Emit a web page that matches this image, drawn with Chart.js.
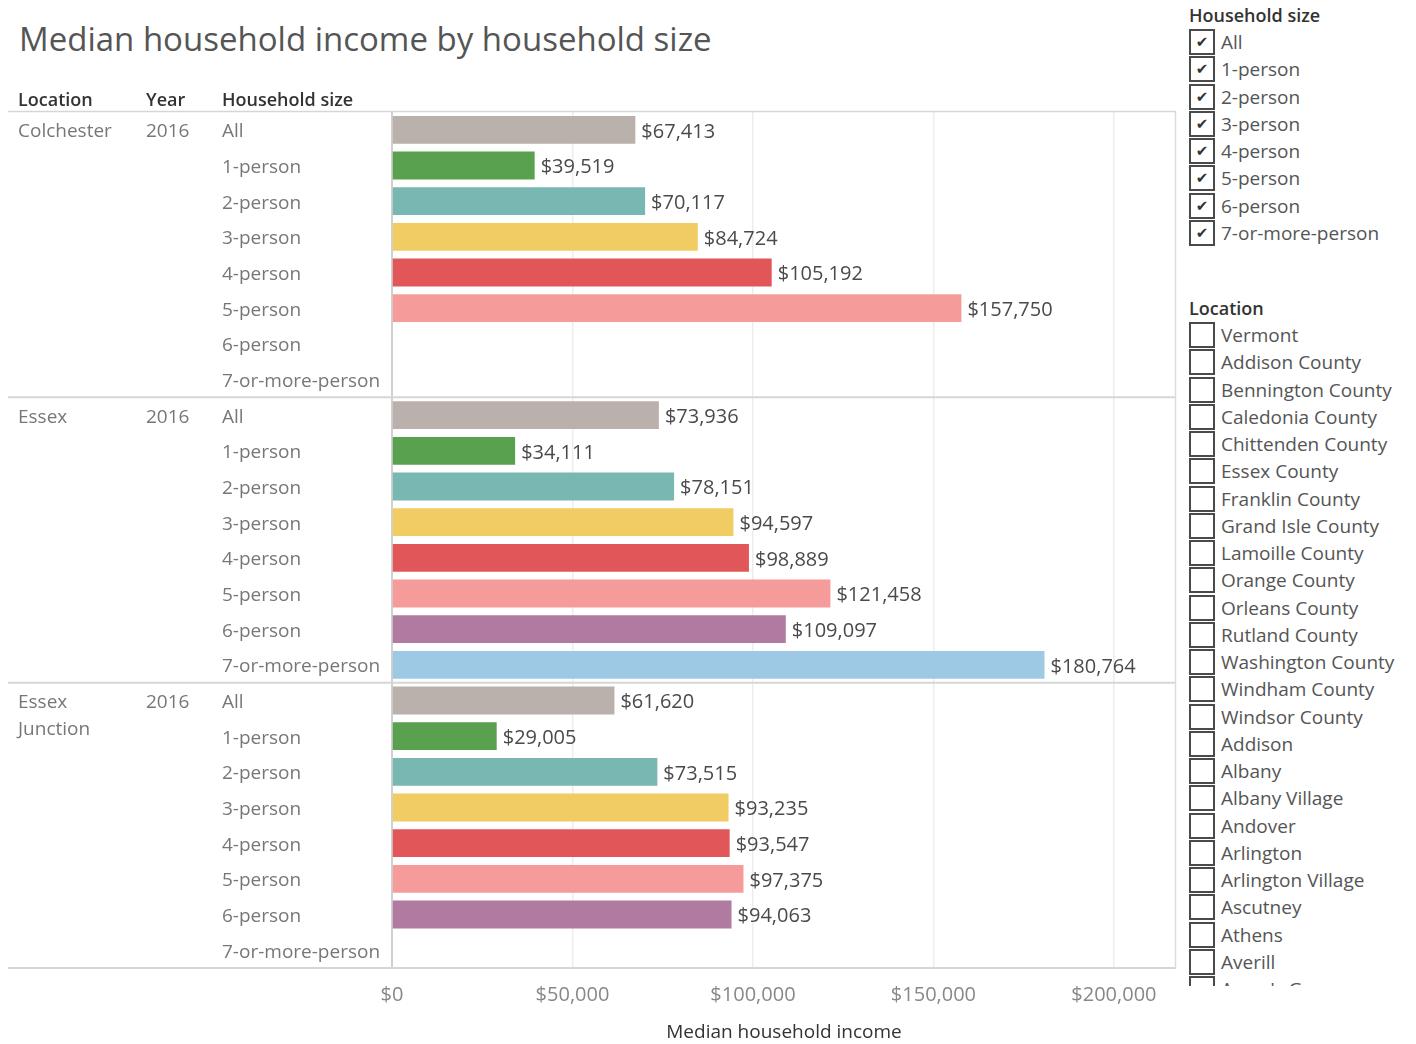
<!DOCTYPE html>
<html><head><meta charset="utf-8">
<script src="https://cdn.jsdelivr.net/npm/chart.js@4.4.1/dist/chart.umd.min.js"></script>
<style>
body{margin:0;background:#fff;width:1416px;height:1044px;overflow:hidden;font-family:"Open Sans",sans-serif;}
#wrap{position:absolute;left:0;top:0;width:1180px;height:1044px;}
#title{position:absolute;left:19px;top:22px;font-size:33px;line-height:1;color:#555;white-space:nowrap;}
.panel{position:absolute;left:1189px;width:227px;overflow:hidden;}
.head{font-size:18px;font-weight:600;color:#333;line-height:1;white-space:nowrap;}
.row{height:27.25px;display:flex;align-items:center;}
.box{width:26px;height:26px;box-sizing:border-box;border:2px solid #4a4a4a;display:flex;align-items:center;justify-content:center;font-size:15px;color:#333;font-family:"DejaVu Sans",sans-serif;flex:none;background:#fff;}
.lbl{margin-left:6px;font-size:19px;color:#555;white-space:nowrap;}
</style>
</head><body>
<div id="title">Median household income by household size</div>
<div id="wrap"><canvas id="c" width="1180" height="1044"></canvas></div>
<div class="head" style="position:absolute;left:1189px;top:6px;">Household size</div>
<div class="panel" id="sizePanel" style="top:28.4px;height:230px;"></div>
<div class="head" style="position:absolute;left:1189px;top:299px;">Location</div>
<div class="panel" id="locPanel" style="top:321.4px;height:665px;"></div>
<script>
// ---- data ----
const householdSizes = ['All','1-person','2-person','3-person','4-person','5-person','6-person','7-or-more-person'];
const locations = ['Colchester','Essex','Essex Junction'];
const locationLines = [['Colchester'],['Essex'],['Essex','Junction']];
const years = ['2016','2016','2016'];
const colchesterIncome = [67413,39519,70117,84724,105192,157750,null,null];
const essexIncome = [73936,34111,78151,94597,98889,121458,109097,180764];
const essexJunctionIncome = [61620,29005,73515,93235,93547,97375,94063,null];
const sizeColors = ['#BAB0AC','#59A14F','#78B7B2','#F0CC62','#E15759','#F59C9A','#B07AA1','#9EC9E4'];
const xTickValues = [0,50000,100000,150000,200000];
const xMax = 217200;
const locationFilterItems = ['Vermont','Addison County','Bennington County','Caledonia County','Chittenden County','Essex County','Franklin County','Grand Isle County','Lamoille County','Orange County','Orleans County','Rutland County','Washington County','Windham County','Windsor County','Addison','Albany','Albany Village','Andover','Arlington','Arlington Village','Ascutney','Athens','Averill',"Avery's Gore"];

// ---- build ----
const incomeByLocation = [colchesterIncome, essexIncome, essexJunctionIncome];
const labels = locations.flatMap(() => householdSizes);
const values = incomeByLocation.flat();
const colors = locations.flatMap(() => sizeColors);
const fmt = v => '$' + v.toLocaleString('en-US');

function buildPanel(el, items, checked){
  items.forEach(t => {
    const r = document.createElement('div'); r.className='row';
    const b = document.createElement('div'); b.className='box'; b.textContent = checked ? '\u2714' : '';
    const l = document.createElement('div'); l.className='lbl'; l.textContent = t;
    r.appendChild(b); r.appendChild(l); el.appendChild(r);
  });
}
buildPanel(document.getElementById('sizePanel'), householdSizes, true);
buildPanel(document.getElementById('locPanel'), locationFilterItems, false);

const TEXT_DY = 2;
const overlay = {
  id:'overlay',
  afterDraw(chart){
    const {ctx, chartArea:a, scales:{x, y}} = chart;
    const n = householdSizes.length;
    ctx.save();
    // header row
    ctx.fillStyle = '#333';
    ctx.font = '600 18px "Open Sans"';
    ctx.textBaseline = 'middle'; ctx.textAlign = 'left';
    ctx.fillText('Location', 18, 101);
    ctx.fillText('Year', 146, 101);
    ctx.fillText('Household size', 222, 101);
    // lines
    ctx.strokeStyle = '#d6d6d6'; ctx.lineWidth = 1.5;
    ctx.beginPath(); ctx.moveTo(8, a.top - 0.5); ctx.lineTo(a.right, a.top - 0.5); ctx.stroke();
    ctx.lineWidth = 2;
    for (let g = 1; g <= locations.length; g++) {
      let yy;
      if (g < locations.length) yy = (y.getPixelForValue(g*n - 1) + y.getPixelForValue(g*n)) / 2;
      else yy = a.bottom;
      ctx.beginPath(); ctx.moveTo(8, yy); ctx.lineTo(a.right, yy); ctx.stroke();
    }
    ctx.strokeStyle = '#dcdcdc'; ctx.lineWidth = 1.5;
    ctx.beginPath(); ctx.moveTo(a.right - 0.5, a.top); ctx.lineTo(a.right - 0.5, a.bottom); ctx.stroke();
    // location + year
    ctx.fillStyle = '#777';
    ctx.font = '19px "Open Sans"';
    locations.forEach((loc, g) => {
      const yy = y.getPixelForValue(g*n) + TEXT_DY;
      locationLines[g].forEach((ln, k) => ctx.fillText(ln, 18, yy + k*27));
      ctx.fillText(years[g], 146, yy);
    });
    // value labels
    ctx.fillStyle = '#4a4a4a';
    ctx.font = '20px "Open Sans"';
    const meta = chart.getDatasetMeta(0);
    meta.data.forEach((bar, i) => {
      if (values[i] == null) return;
      ctx.fillText(fmt(values[i]), bar.x + 6, bar.y + TEXT_DY);
    });
    ctx.restore();
  }
};

new Chart(document.getElementById('c'), {
  type:'bar',
  data:{ labels, datasets:[{ data: values, backgroundColor: colors, barPercentage:0.78, categoryPercentage:1 }] },
  options:{
    indexAxis:'y', responsive:false, animation:false, devicePixelRatio:1,
    layout:{ padding:{ left:222, right:4, top:112, bottom:0 } },
    plugins:{ legend:{display:false}, tooltip:{enabled:false} },
    scales:{
      x:{
        type:'linear', min:0, max:xMax,
        afterBuildTicks(s){ s.ticks = xTickValues.map(v => ({value:v})); },
        afterFit(s){ s.height = 76; },
        ticks:{ padding:15, color:'#888', font:{family:'Open Sans', size:20},
          callback:v => fmt(v), maxRotation:0, autoSkip:false},
        grid:{ drawTicks:false, color: c => (c.tick && c.tick.value !== 0) ? '#ededed' : 'rgba(0,0,0,0)', lineWidth:1.5 },
        border:{ display:false },
        title:{ display:true, text:'Median household income', color:'#333', font:{family:'Open Sans', size:19, weight:'500'}, padding:{top:0,bottom:0} }
      },
      y:{
        afterFit(s){ s.width = 170; },
        ticks:{ crossAlign:'far', padding:0, labelOffset:TEXT_DY, color:'#777', font:{family:'Open Sans', size:19}, autoSkip:false },
        grid:{ display:false },
        border:{ display:true, color:'#d0d0d0', width:2 }
      }
    }
  },
  plugins:[overlay]
});
</script>
</body></html>
